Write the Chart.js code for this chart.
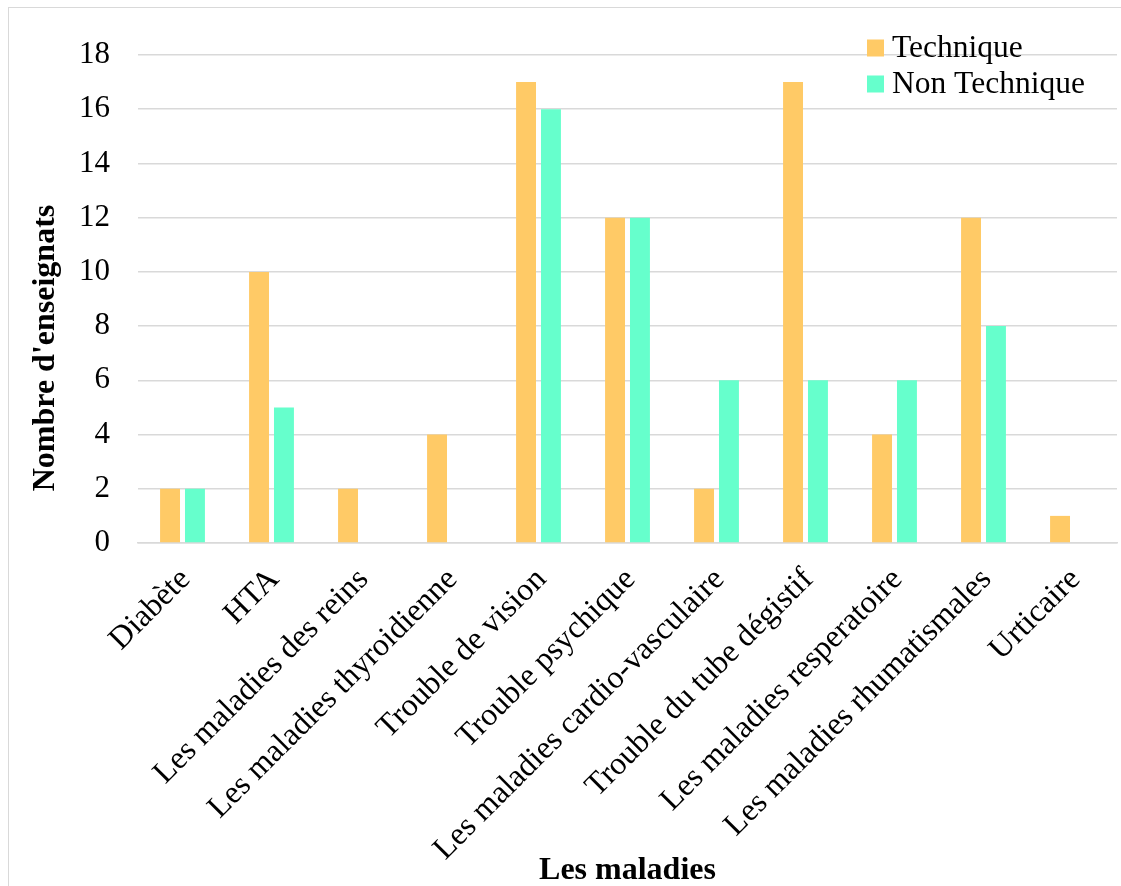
<!DOCTYPE html>
<html lang="fr">
<head>
<meta charset="utf-8">
<title>Les maladies</title>
<script src="https://cdn.jsdelivr.net/npm/chart.js@4.4.1/dist/chart.umd.min.js"></script>
<style>
  html, body { margin: 0; padding: 0; background: #fff; }
  #wrap { position: relative; width: 1121px; height: 886px; overflow: hidden; }
  #frame {
    position: absolute; left: 8px; top: 7px; width: 1200px; height: 1000px;
    border-left: 1.5px solid #d9d9d9; border-top: 1.5px solid #d9d9d9;
    box-sizing: border-box; pointer-events: none;
  }
  canvas { position: absolute; left: 0; top: 0; }
</style>
</head>
<body>
<div id="wrap">
  <canvas id="chart" width="1121" height="886"></canvas>
  <div id="frame"></div>
</div>
<script>
// Diseases reported by teachers, split by teaching branch
const categories = [
  "Diabète",
  "HTA",
  "Les maladies des reins",
  "Les maladies thyroidienne",
  "Trouble de vision",
  "Trouble psychique",
  "Les maladies cardio-vasculaire",
  "Trouble du tube dégistif",
  "Les maladies resperatoire",
  "Les maladies rhumatismales",
  "Urticaire"
];
const technique    = [2, 10, 2, 4, 17, 12, 2, 17, 4, 12, 1];
const nonTechnique = [2, 5, 0, 0, 16, 12, 6, 6, 6, 8, 0];
const yTicks = [0, 2, 4, 6, 8, 10, 12, 14, 16, 18];

const SERIF = '"Liberation Serif", "Times New Roman", serif';
const GRID = '#d9d9d9';

// Vertical y-axis title, centred on the whole drawing height
const yTitlePlugin = {
  id: 'yTitle',
  afterDraw(chart) {
    const ctx = chart.ctx;
    ctx.save();
    ctx.translate(46, 348);
    ctx.rotate(-Math.PI / 2);
    ctx.font = 'bold 32px ' + SERIF;
    ctx.fillStyle = '#000';
    ctx.textAlign = 'center';
    ctx.textBaseline = 'middle';
    ctx.fillText("Nombre d'enseignats", 0, 0);
    ctx.restore();
  }
};

// Stacked legend drawn inside the plot, top right
const innerLegend = {
  id: 'innerLegend',
  afterDraw(chart) {
    const ctx = chart.ctx;
    const x = 867, y0 = 48, rowGap = 36, box = 17;
    ctx.save();
    ctx.font = '31.5px ' + SERIF;
    ctx.textBaseline = 'middle';
    ctx.textAlign = 'left';
    chart.data.datasets.forEach((ds, i) => {
      const y = y0 + i * rowGap;
      ctx.fillStyle = ds.backgroundColor;
      ctx.fillRect(x, y - box / 2, box, box);
      ctx.fillStyle = '#000';
      ctx.fillText(ds.label, x + 25, y + 1);
    });
    ctx.restore();
  }
};

new Chart(document.getElementById('chart'), {
  type: 'bar',
  data: {
    labels: categories,
    datasets: [
      { label: 'Technique', data: technique, backgroundColor: '#FFCA66',
        categoryPercentage: 0.56, barPercentage: 0.8 },
      { label: 'Non Technique', data: nonTechnique, backgroundColor: '#66FFCC',
        categoryPercentage: 0.56, barPercentage: 0.8 }
    ]
  },
  options: {
    responsive: false,
    animation: false,
    layout: { padding: { left: 0, top: 55, right: 4, bottom: 0 } },
    plugins: {
      legend: { display: false },
      tooltip: { enabled: false }
    },
    scales: {
      x: {
        grid: { display: false },
        border: { display: true, color: GRID, width: 1.5 },
        ticks: {
          color: '#000',
          font: { family: SERIF, size: 32 },
          minRotation: 45, maxRotation: 45,
          autoSkip: false,
          padding: 10,
          labelOffset: 3
        },
        title: {
          display: true,
          text: 'Les maladies',
          color: '#000',
          font: { family: SERIF, size: 32, weight: 'bold', lineHeight: 0.95 },
          padding: { top: 0, bottom: 0 }
        },
        afterFit(scale) { scale.height = 343; }
      },
      y: {
        min: 0,
        max: 18,
        afterBuildTicks(scale) { scale.ticks = yTicks.map(v => ({ value: v })); },
        grid: { color: GRID, lineWidth: 1.5, drawTicks: false },
        border: { display: false },
        ticks: {
          color: '#000',
          font: { family: SERIF, size: 31 },
          padding: 28
        },
        afterFit(scale) { scale.width = 138; }
      }
    }
  },
  plugins: [yTitlePlugin, innerLegend]
});
</script>
</body>
</html>
